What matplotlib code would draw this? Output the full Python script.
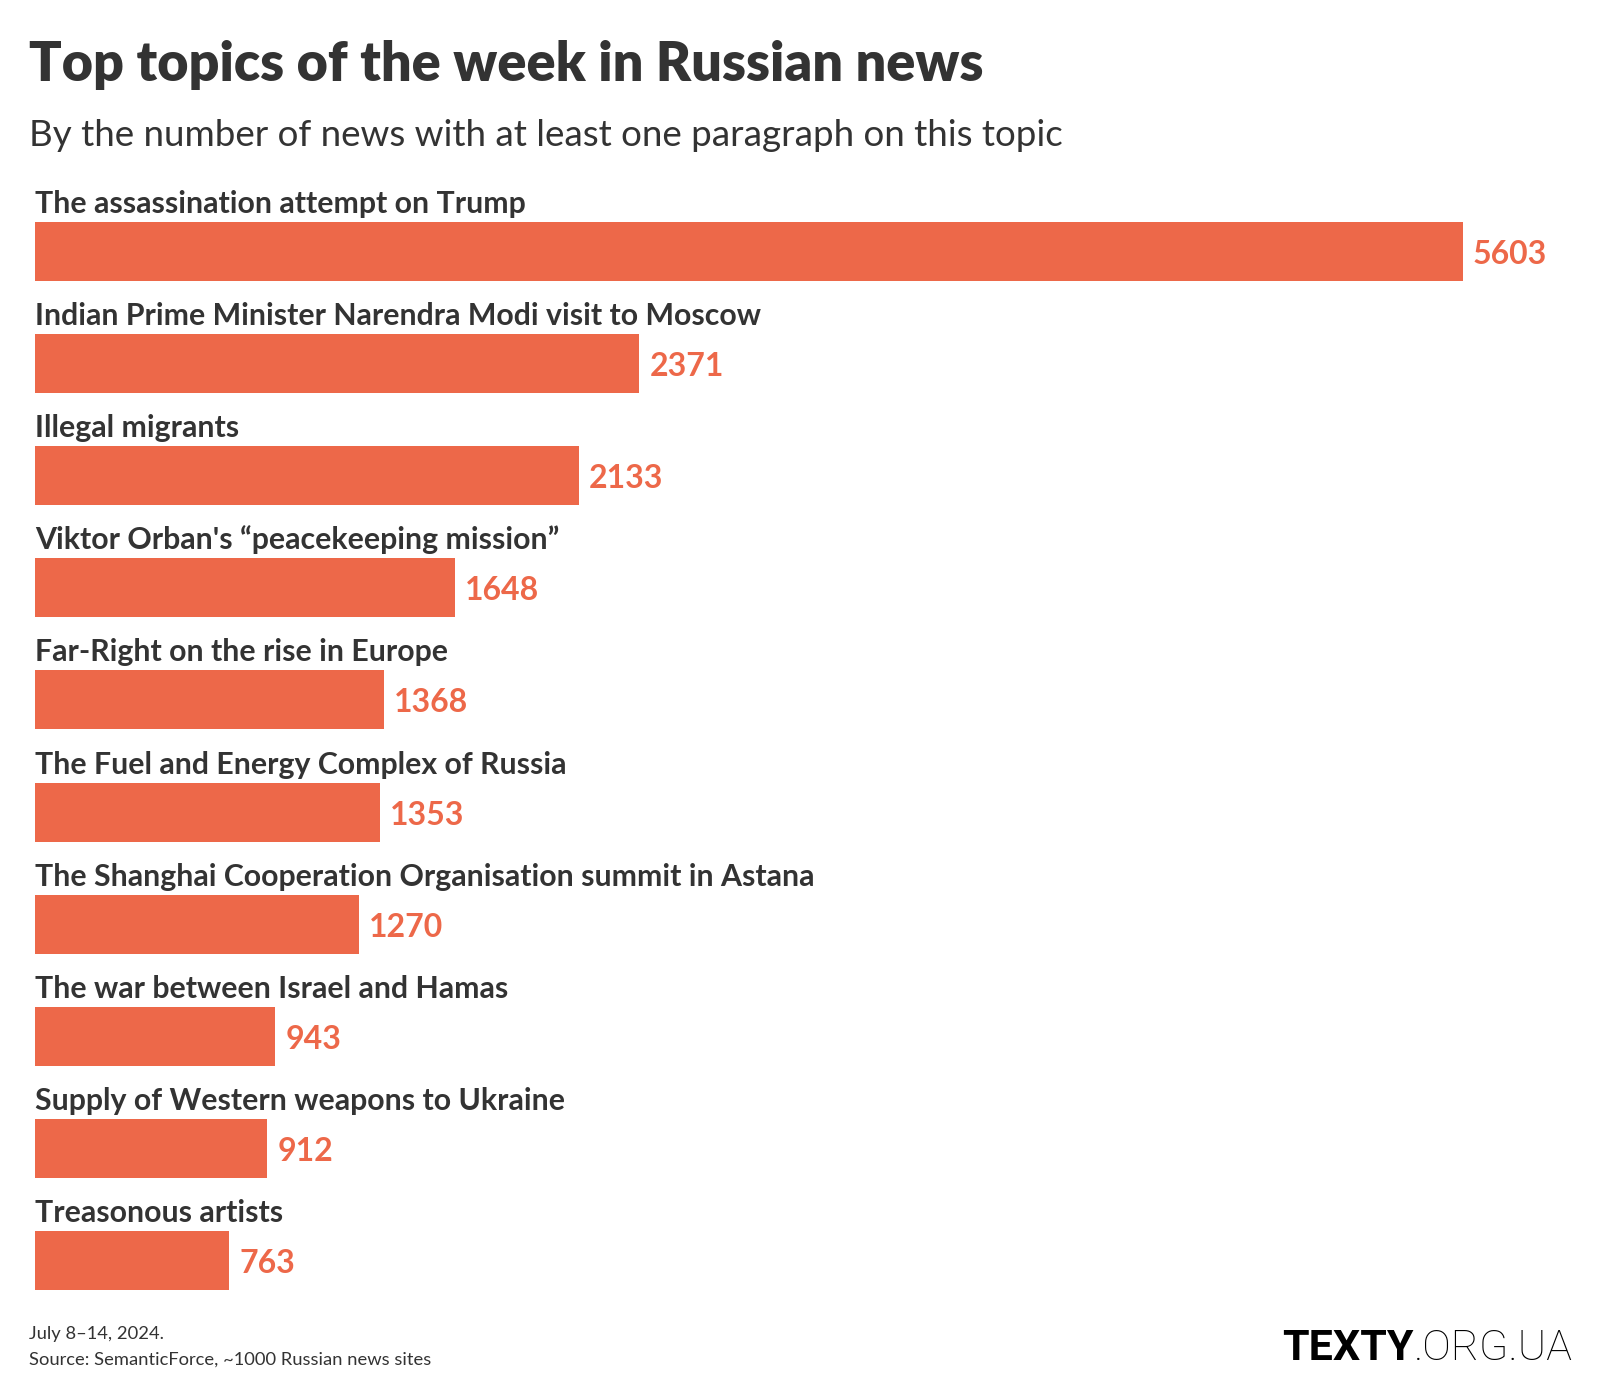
import matplotlib.pyplot as plt
import numpy as np

topics = [
    "The assassination attempt on Trump",
    "Indian Prime Minister Narendra Modi visit to Moscow",
    "Illegal migrants",
    "Viktor Orban's \u201cpeacekeeping mission\u201d",
    "Far-Right on the rise in Europe",
    "The Fuel and Energy Complex of Russia",
    "The Shanghai Cooperation Organisation summit in Astana",
    "The war between Israel and Hamas",
    "Supply of Western weapons to Ukraine",
    "Treasonous artists",
]
counts = [5603, 2371, 2133, 1648, 1368, 1353, 1270, 943, 912, 763]

title = "Top topics of the week in Russian news"
subtitle = "By the number of news with at least one paragraph on this topic"
note = "July 8\u201314, 2024."
source = "Source: SemanticForce, ~1000 Russian news sites"

bar_color = "#ED6849"
text_color = "#333333"
plt.rcParams['font.family'] = ['Lato', 'DejaVu Sans']

W, H = 1600, 1400
fig = plt.figure(figsize=(16, 14), dpi=100)

# axes: bar starts at x=35px, longest bar ends at 1463px; rows span 195..1317px
left, right = 35, 1463
top, bottom = 195, 1317
ax = fig.add_axes([left / W, (H - bottom) / H, (right - left) / W, (bottom - top) / H])

y = np.arange(len(topics))
bh = 0.526
ax.barh(y, counts, height=bh, color=bar_color)
ax.set_xlim(0, max(counts))
ax.set_ylim(len(topics) - 0.5, -0.5)
ax.axis('off')

for i, (t, c) in enumerate(zip(topics, counts)):
    ax.text(0, i - bh / 2 - 0.08, t, ha='left', va='baseline', fontsize=21.8,
            fontweight='bold', color=text_color, clip_on=False)
    ax.annotate(f"{c}", xy=(c, i), xytext=(10, -3), textcoords='offset pixels',
                ha='left', va='center', fontsize=23, fontweight='bold',
                color=bar_color, annotation_clip=False)

fig.text(29 / W, 1 - 81 / H, title, ha='left', va='baseline', fontsize=38.8,
         fontweight='heavy', color=text_color)
fig.text(29 / W, 1 - 146 / H, subtitle, ha='left', va='baseline', fontsize=26.5,
         fontweight='normal', color=text_color)
fig.text(29 / W, 1 - 1339 / H, note, ha='left', va='baseline', fontsize=13.2,
         color=text_color)
fig.text(29 / W, 1 - 1365 / H, source, ha='left', va='baseline', fontsize=13.2,
         color=text_color)

# logo
logo_bold = fig.text(1282 / W, 1 - 1360 / H, "TEXTY", ha='left', va='baseline',
                     fontsize=31, fontweight='bold', color='black', family='Roboto')
fig.canvas.draw()
bb = logo_bold.get_window_extent()
fig.text(bb.x1 / W, 1 - 1360 / H, ".ORG.UA", ha='left', va='baseline',
         fontsize=31, fontweight='light', color='black', family='Roboto')

fig.savefig("out.png", dpi=100, facecolor='white')
